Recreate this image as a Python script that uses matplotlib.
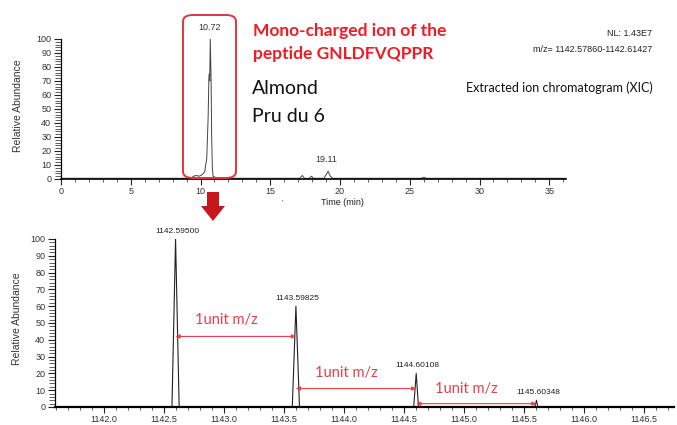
import matplotlib
matplotlib.use("Agg")
import matplotlib.pyplot as plt
from matplotlib.patches import FancyBboxPatch, Polygon
from matplotlib.ticker import MultipleLocator

# XIC trace (retention time in min, relative abundance in %)
rt = [0.0, 9.3, 9.5, 9.7, 9.9, 10.1, 10.3, 10.45, 10.55, 10.6, 10.63, 10.66,
      10.7, 10.76, 10.8, 10.85, 10.9, 11.2, 17.1, 17.3, 17.45, 17.8, 17.95,
      18.1, 18.85, 19.0, 19.15, 19.3, 19.5, 25.8, 26.0, 26.2, 36.2]
rt_abund = [0.5, 0.5, 2.0, 2.5, 2.0, 3.0, 5.0, 15.0, 45.0, 72.0, 75.0, 70.0,
            100.0, 70.0, 30.0, 8.0, 2.0, 0.5, 0.5, 2.5, 0.5, 0.5, 2.0,
            0.5, 0.5, 3.0, 5.5, 2.0, 0.5, 0.5, 1.2, 0.5, 0.5]
rt_peaks = [10.72, 19.11]
rt_peak_abund = [100, 5.5]

# isotope cluster of the [M+H]+ ion
mz = [1141.59, 1142.565, 1142.595, 1142.625, 1143.568, 1143.59825, 1143.628,
      1144.58, 1144.60108, 1144.62, 1145.59, 1145.60348, 1145.615, 1146.75]
mz_abund = [0, 0, 100, 0, 0, 60, 0, 0, 20, 0, 0, 4, 0, 0]
mz_peaks = [1142.59500, 1143.59825, 1144.60108, 1145.60348]
mz_peak_abund = [100, 60, 20, 4]
mz_labels = ["1142.59500", "1143.59825", "1144.60108", "1145.60348"]

W, H = 677, 425
fig = plt.figure(figsize=(W / 100, H / 100), dpi=100)


def fx(x):
    return x / W


def fy(y):
    return 1 - y / H


tick_font = "Liberation Sans"
label_grey = "#333333"
red = "#ee1c25"
arrow_red = "#e8404a"


def style_axes(ax):
    for s in ["top", "right"]:
        ax.spines[s].set_visible(False)
    ax.spines["left"].set_linewidth(0.9)
    ax.spines["bottom"].set_linewidth(1.2)
    ax.tick_params(which="major", length=4, width=0.8, labelsize=6.5,
                   colors="#222222", labelcolor=label_grey, pad=2)
    ax.tick_params(which="minor", length=2.5, width=0.6, colors="#444444")
    ax.tick_params(axis="y", which="major", length=5)
    ax.tick_params(axis="y", which="minor", length=4)
    for lab in ax.get_xticklabels() + ax.get_yticklabels():
        lab.set_family(tick_font)
    ax.set_ylim(0, 100)
    ax.yaxis.set_major_locator(MultipleLocator(10))
    ax.yaxis.set_minor_locator(MultipleLocator(2))
    ax.patch.set_alpha(0)


# top panel: extracted ion chromatogram
ax1 = fig.add_axes([fx(61), fy(179), fx(505), 140 / H])
ax1.plot(rt, rt_abund, color="#444444", lw=0.7)
ax1.set_xlim(0, 36.2)
ax1.xaxis.set_major_locator(MultipleLocator(5))
ax1.xaxis.set_minor_locator(MultipleLocator(1))
style_axes(ax1)
for t, a in zip(rt_peaks, rt_peak_abund):
    ax1.annotate(f"{t:.2f}", (t, a), xytext=(-1, 5), textcoords="offset points",
                 ha="center", va="bottom", fontsize=6.5, family=tick_font,
                 color=label_grey, annotation_clip=False)

# bottom panel: mass spectrum
ax2 = fig.add_axes([fx(55), fy(407), fx(619), 168 / H])
ax2.plot(mz, mz_abund, color="#222222", lw=0.8)
ax2.set_xlim(1141.59, 1146.75)
ax2.xaxis.set_major_locator(MultipleLocator(0.5))
ax2.xaxis.set_minor_locator(MultipleLocator(0.1))
ax2.xaxis.set_major_formatter(matplotlib.ticker.FormatStrFormatter("%.1f"))
style_axes(ax2)
ax2.spines["bottom"].set_linewidth(1.6)
for m, a, lab in zip(mz_peaks, mz_peak_abund, mz_labels):
    ax2.annotate(lab, (m, a), xytext=(1, 3), textcoords="offset points",
                 ha="center", va="bottom", fontsize=6, family=tick_font,
                 color="#222222", annotation_clip=False)

# spacing arrows between neighbouring isotopes
arrow_y = [42, 11, 2]
text_y = [52, 20, 11]
for i in range(3):
    ax2.annotate("", xy=(mz_peaks[i + 1], arrow_y[i]), xytext=(mz_peaks[i], arrow_y[i]),
                 arrowprops=dict(arrowstyle="<|-|>", color=arrow_red, lw=0.8,
                                 mutation_scale=6, shrinkA=0, shrinkB=0))
    ax2.text((mz_peaks[i] + mz_peaks[i + 1]) / 2 - 0.08, text_y[i], "1unit m/z",
             ha="center", va="center", fontsize=10.5, family="Lato",
             color=arrow_red)

# axis titles
fig.text(fx(18), fy(106), "Relative Abundance", rotation=90, ha="center",
         va="center", fontsize=7.5, family=tick_font, color=label_grey)
fig.text(fx(17), fy(319), "Relative Abundance", rotation=90, ha="center",
         va="center", fontsize=7.5, family=tick_font, color=label_grey)
fig.text(fx(342), fy(202), "Time (min)", ha="center", va="center",
         fontsize=6.5, family=tick_font, color="#222222")
fig.text(fx(283), fy(201), "·", ha="center", va="center", fontsize=7, color=red)

# highlight box round the main peak and the arrow down to the spectrum
fig.add_artist(FancyBboxPatch((fx(183), fy(178)), fx(53), (178 - 15) / H,
                              boxstyle="round,pad=0,rounding_size=0.015",
                              transform=fig.transFigure, fill=False,
                              edgecolor="#e0353d", lw=1.4))
arrow_px = [(207, 192), (219, 192), (219, 206), (225, 206), (213, 221),
            (201, 206), (207, 206)]
fig.add_artist(Polygon([(fx(x), fy(y)) for x, y in arrow_px], closed=True,
                       transform=fig.transFigure, facecolor="#c8161d",
                       edgecolor="none"))

# annotations
fig.text(fx(253), fy(31), "Mono-charged ion of the", ha="left", va="center",
         fontsize=12.5, family="Lato", weight="bold", color=red)
fig.text(fx(253), fy(54), "peptide GNLDFVQPPR", ha="left", va="center",
         fontsize=12.5, family="Lato", weight="bold", color=red)
fig.text(fx(252), fy(89), "Almond", ha="left", va="center", fontsize=14,
         family="Lato", color="#111111")
fig.text(fx(252), fy(116), "Pru du 6", ha="left", va="center", fontsize=14,
         family="Lato", color="#111111")
fig.text(fx(652), fy(33), "NL: 1.43E7", ha="right", va="center", fontsize=6.5,
         family=tick_font, color="#222222")
fig.text(fx(652), fy(50), "m/z= 1142.57860-1142.61427", ha="right", va="center",
         fontsize=6.5, family=tick_font, color="#222222")
fig.text(fx(653), fy(88), "Extracted ion chromatogram (XIC)", ha="right",
         va="center", fontsize=9, family="Lato", color="#111111")

fig.savefig("out.png", dpi=100)
